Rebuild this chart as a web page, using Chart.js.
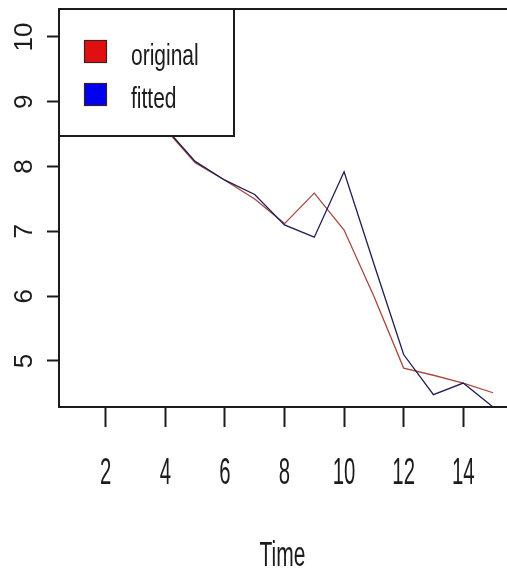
<!DOCTYPE html>
<html>
<head>
<meta charset="utf-8">
<script src="https://cdn.jsdelivr.net/npm/chart.js@4/dist/chart.umd.min.js"></script>
<style>
  html, body { margin: 0; padding: 0; background: #fff; overflow: hidden; width: 507px; height: 572px; }
  #wrap { width: 512px; height: 572px; }
</style>
</head>
<body>
<div id="wrap"><canvas id="c" width="512" height="572"></canvas></div>
<script>
// Time index and the two series
const time = [1, 2, 3, 4, 5, 6, 7, 8, 9, 10, 11, 12, 13, 14, 15];
const original = [10.2, 9.6, 9.1, 8.58, 8.06, 7.79, 7.50, 7.12, 7.59, 7.02, 6.0, 4.89, 4.78, 4.66, 4.51];
const fitted   = [10.2, 9.65, 9.05, 8.6, 8.08, 7.79, 7.57, 7.10, 6.91, 7.92, 6.5, 5.1, 4.48, 4.66, 4.29];

// Axis ticks
const xTicks = [2, 4, 6, 8, 10, 12, 14];
const yTicks = [5, 6, 7, 8, 9, 10];

const seriesNames = ['original', 'fitted'];
const lineColors = ['#a8483f', '#1e1e52'];
const keyColors = ['#e01010', '#0000ee'];

const FONT = '"Liberation Sans", Arial, sans-serif';

// Draw text with a horizontal squeeze (narrow lettering of the plot)
function drawText(ctx, text, x, y, size, sx, align, rotate) {
  ctx.save();
  ctx.translate(x, y);
  if (rotate) ctx.rotate(-Math.PI / 2);
  ctx.scale(sx, 1);
  ctx.font = size + 'px ' + FONT;
  ctx.fillStyle = '#1c1c1c';
  ctx.textAlign = align;
  ctx.textBaseline = 'alphabetic';
  ctx.fillText(text, 0, 0);
  ctx.restore();
}

const labelsPlugin = {
  id: 'rLabels',
  afterDatasetsDraw(chart) {
    const ctx = chart.ctx;
    const a = chart.chartArea;
    // top edge of the plot box
    ctx.save();
    ctx.strokeStyle = '#1c1c1c';
    ctx.lineWidth = 2;
    ctx.beginPath();
    ctx.moveTo(a.left - 1, a.top);
    ctx.lineTo(a.right + 2, a.top);
    ctx.stroke();

    // legend box, opaque over the lines
    const lx = a.left, ly = a.top, lw = 175, lh = 127;
    ctx.fillStyle = '#fff';
    ctx.fillRect(lx, ly, lw, lh);
    ctx.strokeRect(lx, ly, lw, lh);
    const keyY = [40, 83];
    const textY = [65, 108];
    seriesNames.forEach((name, i) => {
      ctx.fillStyle = keyColors[i];
      ctx.fillRect(84, keyY[i], 23, 23);
      ctx.lineWidth = 1.2;
      ctx.strokeStyle = '#3a2020';
      ctx.strokeRect(84.5, keyY[i] + 0.5, 22, 22);
      drawText(ctx, name, 131, textY[i], 30, 0.7, 'left', false);
    });
    ctx.restore();
  },
  afterDraw(chart) {
    const ctx = chart.ctx;
    const xs = chart.scales.x, ys = chart.scales.y;
    xTicks.forEach(v => {
      drawText(ctx, String(v), xs.getPixelForValue(v), 484, 37, 0.55, 'center', false);
    });
    yTicks.forEach(v => {
      drawText(ctx, String(v), 32, ys.getPixelForValue(v), 26, 1.0, 'center', true);
    });
    drawText(ctx, 'Time', (chart.chartArea.left + chart.chartArea.right) / 2 - 2, 566, 35, 0.6, 'center', false);
  }
};

const toPoints = vals => time.map((t, i) => ({ x: t, y: vals[i] }));

new Chart(document.getElementById('c'), {
  type: 'line',
  data: {
    datasets: [
      { label: seriesNames[0], data: toPoints(original), borderColor: lineColors[0], borderWidth: 1.3, pointRadius: 0, tension: 0, order: 1 },
      { label: seriesNames[1], data: toPoints(fitted), borderColor: lineColors[1], borderWidth: 1.3, pointRadius: 0, tension: 0, order: 0 }
    ]
  },
  options: {
    responsive: false,
    devicePixelRatio: 1,
    animation: false,
    layout: { padding: { top: 9, right: 2, left: 0, bottom: 0 } },
    plugins: { legend: { display: false }, tooltip: { enabled: false } },
    scales: {
      x: {
        type: 'linear',
        min: 0.43,
        max: 15.57,
        afterBuildTicks: s => { s.ticks = xTicks.map(v => ({ value: v })); },
        afterFit: s => { s.height = 165; },
        ticks: { display: false },
        grid: { drawOnChartArea: false, drawTicks: true, tickLength: 20, tickWidth: 2, tickColor: '#1c1c1c' },
        border: { display: true, color: '#1c1c1c', width: 2 }
      },
      y: {
        type: 'linear',
        min: 4.29,
        max: 10.432,
        afterBuildTicks: s => { s.ticks = yTicks.map(v => ({ value: v })); },
        afterFit: s => { s.width = 59; },
        ticks: { display: false },
        grid: { drawOnChartArea: false, drawTicks: true, tickLength: 12, tickWidth: 2, tickColor: '#1c1c1c' },
        border: { display: true, color: '#1c1c1c', width: 2 }
      }
    }
  },
  plugins: [labelsPlugin]
});
</script>
</body>
</html>
